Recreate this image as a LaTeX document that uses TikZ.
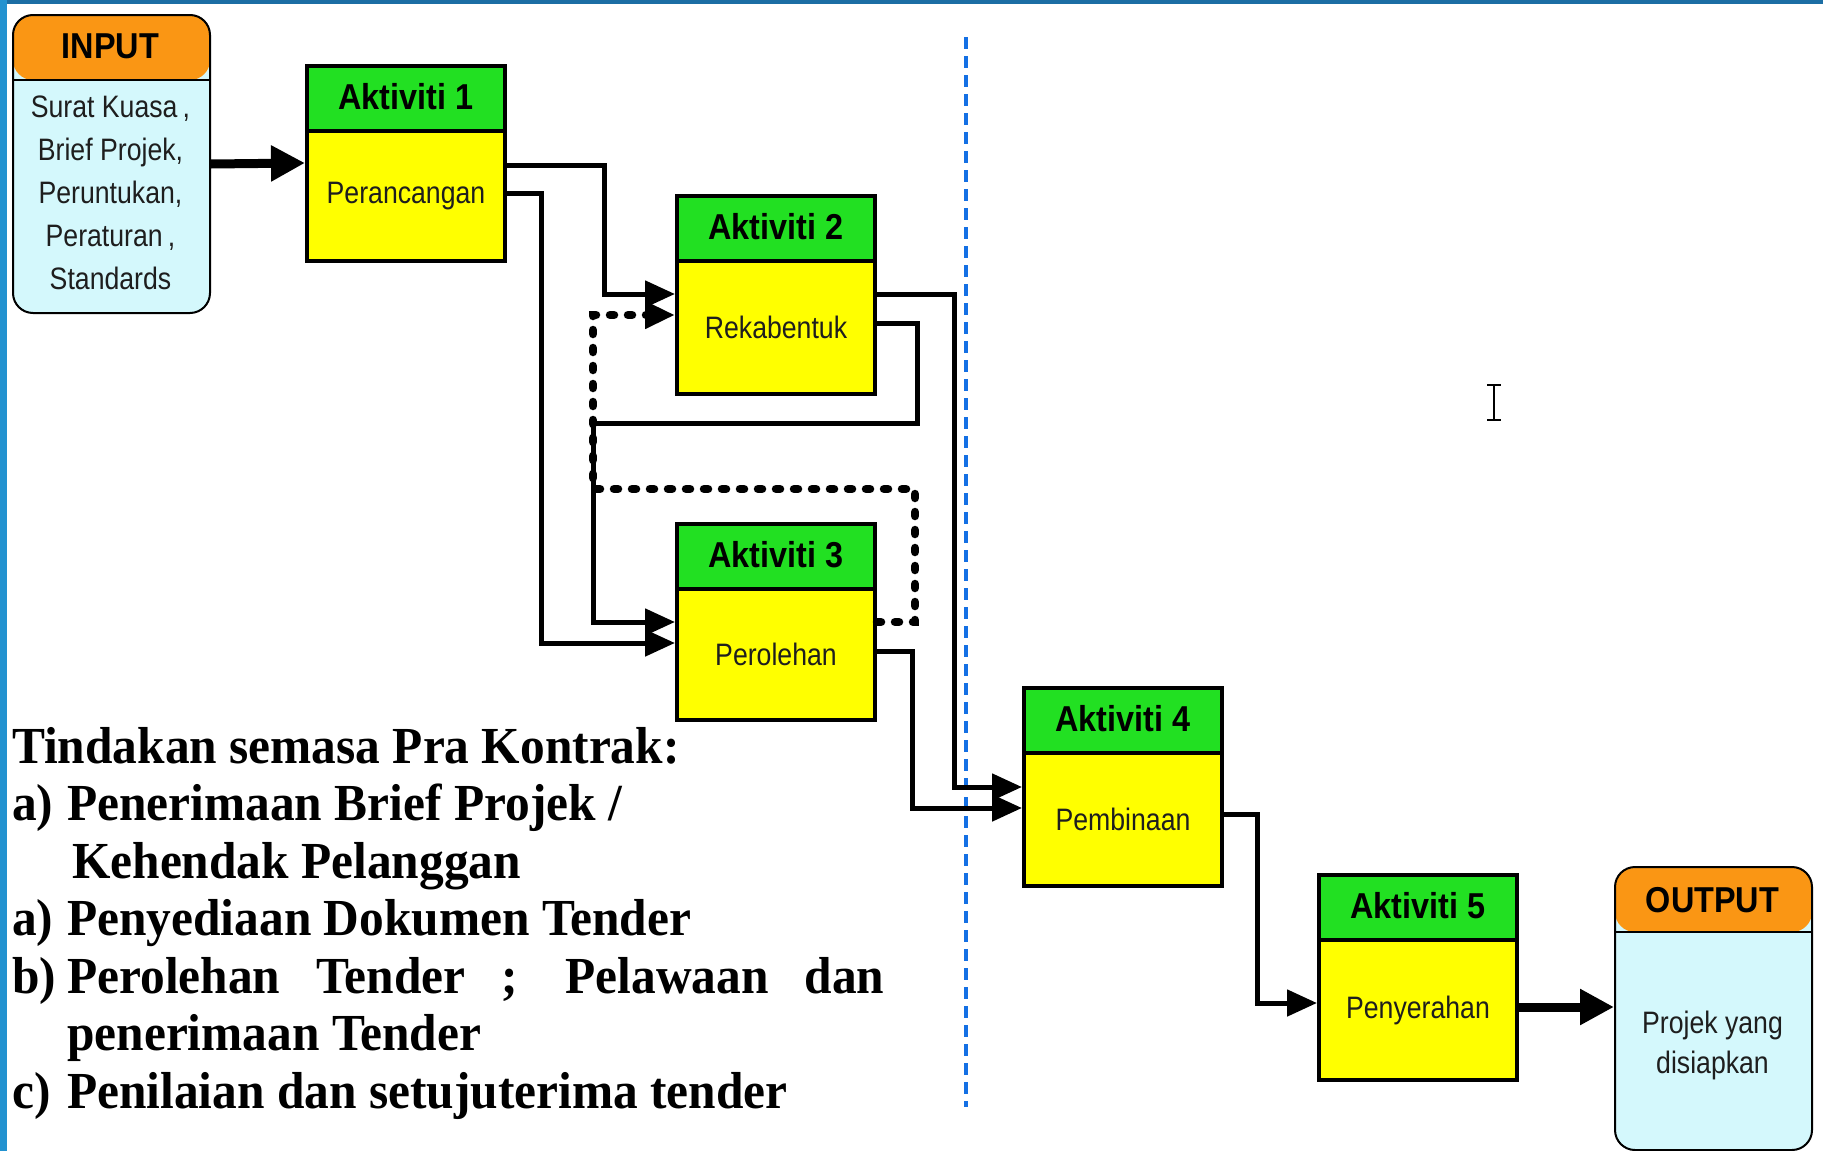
\documentclass[tikz,border=0pt]{standalone}
\usepackage{fontspec}
\usetikzlibrary{arrows.meta,calc}
\newfontfamily\boxsans[FakeStretch=0.86]{Liberation Sans}
\newfontfamily\boxsanshead[FakeStretch=0.9]{Liberation Sans}
\newfontfamily\noteserif[FakeStretch=0.95]{Liberation Serif}
\definecolor{actgreen}{RGB}{34,224,34}
\definecolor{actyellow}{RGB}{255,255,0}
\definecolor{ioorange}{RGB}{250,150,20}
\definecolor{iocyan}{RGB}{212,248,252}
\definecolor{sideblue}{RGB}{34,146,208}
\definecolor{topblue}{RGB}{28,110,164}
\definecolor{splitblue}{RGB}{20,112,228}
\definecolor{bodyink}{RGB}{30,30,30}

% one activity: box with green header band, header text and body text
\newcommand\actnode[6]{%
  \node[actbox=#4] (#1) at (#2,#3) {};
  \node[hdtext] (#1h) at ([yshift=-33pt]#1.north) {#5};
  \node[bdtext] (#1t) at ($([yshift=-65pt]#1.north)!0.5!(#1.south)$) {#6};
}

\begin{document}
\begin{tikzpicture}[x=1pt,y=-1pt,
  actbox/.style={draw, line width=4pt, fill=actyellow, minimum width=198pt,
    minimum height=#1, inner sep=0pt, anchor=north west,
    path picture={
      \fill[actgreen] (path picture bounding box.north west) rectangle
        ([yshift=-65pt]path picture bounding box.north east);
      \draw[line width=4.5pt] ([yshift=-65pt]path picture bounding box.north west) --
        ([yshift=-65pt]path picture bounding box.north east);}},
  iobox/.style={draw, line width=2pt, rounded corners=20pt, fill=iocyan,
    minimum width=197pt, minimum height=#1, inner sep=0pt, anchor=north west,
    path picture={
      \fill[ioorange] (path picture bounding box.north west) rectangle
        ([yshift=-65pt]path picture bounding box.north east);
      \draw[line width=2.5pt] ([yshift=-65pt]path picture bounding box.north west) --
        ([yshift=-65pt]path picture bounding box.north east);}},
  hdtext/.style={font=\boxsanshead\bfseries\fontsize{36}{40}\selectfont, inner sep=0pt},
  bdtext/.style={font=\boxsans\fontsize{31}{43}\selectfont, text=bodyink, inner sep=0pt, align=center},
  conn/.style={line width=5pt, -{Triangle[length=30pt,width=26pt]}},
  bigconn/.style={line width=9pt, -{Triangle[length=34pt,width=34pt]}},
  dotconn/.style={line width=8.5pt, dash pattern=on 4pt off 14pt, line cap=round,
    -{Triangle[length=30pt,width=26pt]}},
  splitline/.style={splitblue, line width=4pt, dash pattern=on 12pt off 7pt},
  note/.style={font=\noteserif\bfseries\fontsize{52}{57}\selectfont, inner sep=0pt,
    anchor=base west}
]
\useasboundingbox (0,0) rectangle (1823,1151);
\fill[white] (0,0) rectangle (1823,1151);

% frame strips
\fill[topblue] (0,0) rectangle (1823,4);
\fill[sideblue] (0,0) rectangle (7,1151);

% input and output
\node[iobox=298pt] (inp) at (12,14) {};
\node[hdtext] (inph) at (110.5,46) {INPUT};
\node[bdtext] (inpt) at (110.5,193)
  {Surat Kuasa\,,\\Brief Projek,\\Peruntukan,\\Peraturan\,,\\Standards};

\node[iobox=283pt] (out) at (1614,866) {};
\node[hdtext] (outh) at (1712.5,900) {OUTPUT};
\node[bdtext, font=\boxsans\fontsize{31}{40}\selectfont] (outt) at (1712.5,1045)
  {Projek yang\\disiapkan};

% activities
\actnode{a1}{305}{64}{195pt}{Aktiviti 1}{Perancangan}
\actnode{a2}{675}{194}{198pt}{Aktiviti 2}{Rekabentuk}
\actnode{a3}{675}{522}{196pt}{Aktiviti 3}{Perolehan}
\actnode{a4}{1022}{686}{198pt}{Aktiviti 4}{Pembinaan}
\actnode{a5}{1317}{873}{205pt}{Aktiviti 5}{Penyerahan}

% phase boundary
\draw[splitline] (966,37) -- (966,1107);

% flows
\draw[bigconn] (inp.east) -- ($(a1.north west)+(0,99)$);
\draw[conn] ($(a1.north east)+(0,101)$) -- ++(97,0) |- ($(a2.north west)+(0,100)$);
\draw[conn] ($(a1.north east)+(0,129)$) -- ++(34,0) |- ($(a3.north west)+(0,121)$);
\draw[conn] ($(a2.north east)+(0,100)$) -- ++(77,0) |- ($(a4.north west)+(0,101)$);
\draw[conn] ($(a2.north east)+(0,129)$) -| (917,423) -- (593,423) |- ($(a3.north west)+(0,100)$);
\draw[dotconn] ($(a3.north east)+(0,100)$) -| (915,489) -- (593,489) |- ($(a2.north west)+(0,121)$);
\draw[conn] ($(a3.north east)+(0,129)$) -- ++(35,0) |- ($(a4.north west)+(0,122)$);
\draw[conn] ($(a4.north east)+(0,128)$) -- ++(33,0) |- ($(a5.north west)+(0,130)$);
\draw[bigconn] ($(a5.north east)+(0,134)$) -- ($(out.north west)+(0,141)$);

% text cursor
\draw[line width=2.5pt] (1487,385) -- (1501,385) (1494,385) -- (1494,420) (1487,420) -- (1501,420);

% notes
\node[note] (n0) at (12,763) {Tindakan semasa Pra Kontrak:};
\node[note] (n1l) at (12,820) {a)};
\node[note] (n1) at (67,820) {Penerimaan Brief Projek /};
\node[note] (n2) at (72,878) {Kehendak Pelanggan};
\node[note] (n3l) at (12,935) {a)};
\node[note] (n3) at (67,935) {Penyediaan Dokumen Tender};
\node[note] (n4l) at (12,993) {b)};
\node[note] (n4) at (67,993) {\makebox[817pt][s]{Perolehan Tender ; Pelawaan dan}};
\node[note] (n5) at (67,1050) {penerimaan Tender};
\node[note] (n6l) at (12,1108) {c)};
\node[note] (n6) at (67,1108) {Penilaian dan setujuterima tender};
\end{tikzpicture}
\end{document}
